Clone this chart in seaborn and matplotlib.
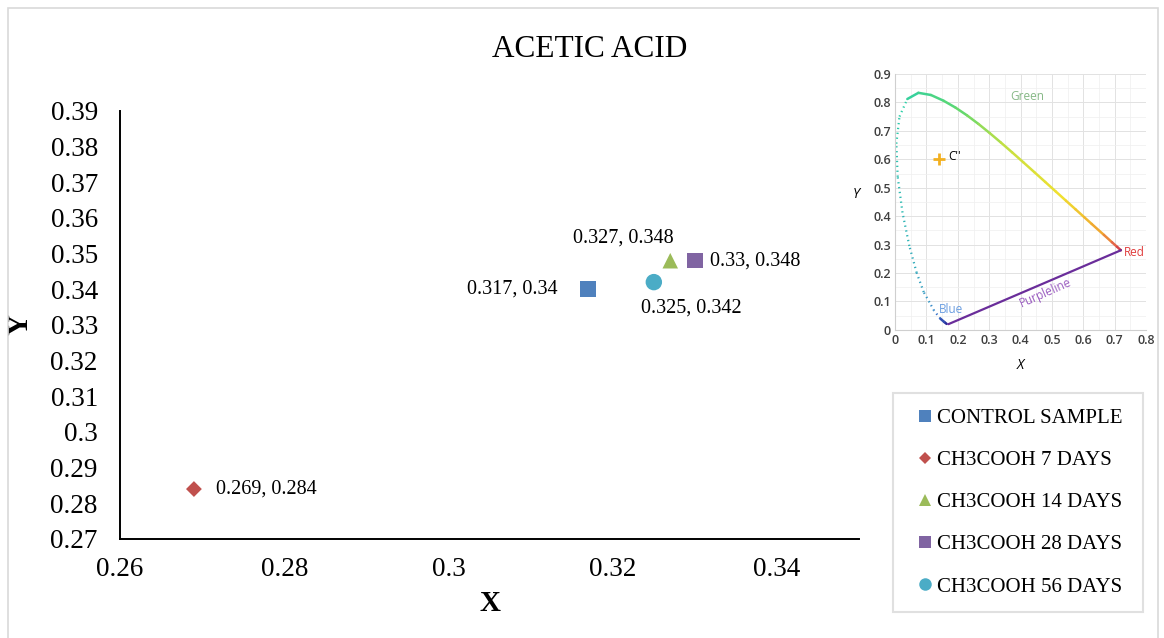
import matplotlib
matplotlib.use("Agg")
import matplotlib.pyplot as plt
import seaborn as sns
import pandas as pd
from matplotlib.colors import LinearSegmentedColormap
from matplotlib.patches import Rectangle

# main chart data
samples = ["CONTROL SAMPLE", "CH3COOH 7 DAYS", "CH3COOH 14 DAYS",
           "CH3COOH 28 DAYS", "CH3COOH 56 DAYS"]
x_vals = [0.317, 0.269, 0.327, 0.33, 0.325]
y_vals = [0.34, 0.284, 0.348, 0.348, 0.342]
point_labels = ["0.317, 0.34", "0.269, 0.284", "0.327, 0.348",
                "0.33, 0.348", "0.325, 0.342"]
x_ticks = [0.26, 0.28, 0.3, 0.32, 0.34]
y_ticks = [0.27, 0.28, 0.29, 0.3, 0.31, 0.32, 0.33, 0.34, 0.35, 0.36, 0.37, 0.38, 0.39]

# inset: CIE 1931 spectral locus
locus_nm = [440, 450, 460, 470, 475, 480, 485, 490, 495, 500, 505, 510, 515,
            520, 525, 530, 535, 540, 545, 550, 555, 560, 565, 570, 575, 580,
            585, 590, 595, 600, 610, 620, 630, 640, 650]
locus_x = [0.1644, 0.1566, 0.1440, 0.1241, 0.1096, 0.0913, 0.0687, 0.0454, 0.0235,
           0.0082, 0.0039, 0.0139, 0.0389, 0.0743, 0.1142, 0.1547, 0.1929, 0.2296,
           0.2658, 0.3016, 0.3373, 0.3731, 0.4087, 0.4441, 0.4788, 0.5125, 0.5448,
           0.5752, 0.6029, 0.6270, 0.6658, 0.6915, 0.7079, 0.7190, 0.7200]
locus_y = [0.0209, 0.0277, 0.0397, 0.0678, 0.0968, 0.1327, 0.2007, 0.2950, 0.4127,
           0.5384, 0.6548, 0.7502, 0.8120, 0.8338, 0.8262, 0.8059, 0.7816, 0.7543,
           0.7243, 0.6923, 0.6589, 0.6245, 0.5896, 0.5547, 0.5202, 0.4866, 0.4544,
           0.4242, 0.3965, 0.3725, 0.3340, 0.3083, 0.2920, 0.2809, 0.2800]
purple_x = [0.17, 0.72]
purple_y = [0.02, 0.28]
white_point = (0.14, 0.60)

palette = {
    "CONTROL SAMPLE": "#4F81BD",
    "CH3COOH 7 DAYS": "#C0504D",
    "CH3COOH 14 DAYS": "#9BBB59",
    "CH3COOH 28 DAYS": "#8064A2",
    "CH3COOH 56 DAYS": "#4BACC6",
}
marker_map = {
    "CONTROL SAMPLE": "s",
    "CH3COOH 7 DAYS": "D",
    "CH3COOH 14 DAYS": "^",
    "CH3COOH 28 DAYS": "s",
    "CH3COOH 56 DAYS": "o",
}
marker_size = {"s": 125, "D": 65, "^": 125, "o": 140}
legend_msize = {"s": 8, "D": 6.5, "^": 8.5, "o": 9}
# label offsets in points and alignment
label_style = {
    "CONTROL SAMPLE": ((-22, 0), "right"),
    "CH3COOH 7 DAYS": ((16, 0), "left"),
    "CH3COOH 14 DAYS": ((-34, 16), "center"),
    "CH3COOH 28 DAYS": ((11, 0), "left"),
    "CH3COOH 56 DAYS": ((27, -19), "center"),
}

df = pd.DataFrame({"sample": samples, "x": x_vals, "y": y_vals, "label": point_labels})

sns.set_style("white")
plt.rcParams["font.family"] = ["Liberation Serif", "DejaVu Serif"]
plt.rcParams["text.color"] = "black"
plt.rcParams["axes.labelcolor"] = "black"

fig = plt.figure(figsize=(11.64, 6.38), dpi=100)
ax = fig.add_axes([0.1031, 0.1552, 0.635, 0.671])

sns.scatterplot(data=df, x="x", y="y", hue="sample", style="sample",
                palette=palette, markers=marker_map, s=130, linewidth=0,
                ax=ax, zorder=3)
ax.collections[0].set_sizes([marker_size[marker_map[s]] for s in df["sample"]])

for _, row in df.iterrows():
    (dx, dy), ha = label_style[row["sample"]]
    ax.annotate(row["label"], (row["x"], row["y"]), xytext=(dx, dy),
                textcoords="offset points", ha=ha, va="center", fontsize=14.5)

ax.set_xlim(0.26, 0.35)
ax.set_ylim(0.27, 0.39)
ax.set_xticks(x_ticks)
ax.set_yticks(y_ticks)
ax.set_xticklabels([f"{v:g}" for v in x_ticks])
ax.set_yticklabels([f"{v:g}" for v in y_ticks])
ax.tick_params(axis="both", labelsize=19.5, colors="black")
ax.tick_params(axis="x", direction="inout", length=10, width=1.3, pad=8)
ax.tick_params(axis="y", direction="out", length=6, width=1.3, pad=10)
ax.set_xlabel("X", fontsize=21, fontweight="bold", labelpad=6)
ax.set_ylabel("Y", fontsize=21, fontweight="bold", labelpad=12)
sns.despine(ax=ax)
for side in ["left", "bottom"]:
    ax.spines[side].set_color("black")
    ax.spines[side].set_linewidth(1.4)

fig.text(0.507, 0.922, "ACETIC ACID", ha="center", va="center", fontsize=22.5)

sns.move_legend(ax, "upper left", bbox_to_anchor=(0.767, 0.047, 0.215, 0.337),
                bbox_transform=fig.transFigure, mode="expand", title=None,
                frameon=True, fancybox=False, fontsize=15, borderaxespad=0,
                borderpad=0.75, labelspacing=1.08, handlelength=1.6,
                handletextpad=-0.25, markerscale=1.0)
leg = ax.get_legend()
leg.get_frame().set_edgecolor("#d9d9d9")
leg.get_frame().set_linewidth(1.5)
for h, s in zip(leg.legend_handles, samples):
    if hasattr(h, "set_markersize"):
        h.set_markersize(legend_msize[marker_map[s]])

# inset chromaticity diagram
ins = fig.add_axes([0.769, 0.483, 0.2155, 0.401])
ins.set_xlim(0, 0.8)
ins.set_ylim(0, 0.9)
ins.set_xticks([0, 0.1, 0.2, 0.3, 0.4, 0.5, 0.6, 0.7, 0.8])
ins.set_yticks([0, 0.1, 0.2, 0.3, 0.4, 0.5, 0.6, 0.7, 0.8, 0.9])
ins.set_xticks([i * 0.05 for i in range(17)], minor=True)
ins.set_yticks([i * 0.05 for i in range(19)], minor=True)
ins.set_xticklabels(["0", "0.1", "0.2", "0.3", "0.4", "0.5", "0.6", "0.7", "0.8"])
ins.set_yticklabels(["0", "0.1", "0.2", "0.3", "0.4", "0.5", "0.6", "0.7", "0.8", "0.9"])
ins.grid(which="major", color="#e2e2e2", linewidth=0.7)
ins.grid(which="minor", color="#efefef", linewidth=0.5)
ins.tick_params(which="both", length=0, labelsize=9, labelcolor="#3f3f3f", pad=3)
for lab in ins.get_xticklabels() + ins.get_yticklabels():
    lab.set_family(["Open Sans", "DejaVu Sans"])
    lab.set_fontweight("semibold")
for side in ["top", "right"]:
    ins.spines[side].set_visible(False)
for side in ["left", "bottom"]:
    ins.spines[side].set_color("#cfcfcf")
ins.set_facecolor("white")

spec_cmap = LinearSegmentedColormap.from_list(
    "spec", ["#2a2a9a", "#3b7fd0", "#30b0b8", "#2ccfa8", "#5ed870",
             "#c8e040", "#f0e030", "#f0a030", "#e05050", "#a01030"])
nm_min, nm_max = min(locus_nm), max(locus_nm)
for i in range(len(locus_nm) - 1):
    c = spec_cmap((locus_nm[i] - nm_min) / (nm_max - nm_min))
    if 460 <= locus_nm[i] < 515:
        ins.plot(locus_x[i:i + 2], locus_y[i:i + 2], color=c, linewidth=1.6,
                 linestyle=(0, (0.6, 1.6)), solid_capstyle="round")
    else:
        ins.plot(locus_x[i:i + 2], locus_y[i:i + 2], color=c, linewidth=1.8,
                 solid_capstyle="round")
ins.plot(purple_x, purple_y, color="#6a2d9a", linewidth=1.6)
ins.plot(*white_point, marker="+", color="#f2b020", markersize=8, mew=2)

sans = ["Open Sans", "DejaVu Sans"]
ins.text(white_point[0] + 0.03, white_point[1] + 0.01, "C''", fontsize=8.5,
         family=sans, va="center")
ins.text(0.42, 0.81, "Green", color="#86b886", fontsize=8.5, family=sans, ha="center")
ins.text(0.73, 0.26, "Red", color="#e03c3c", fontsize=8.5, family=sans, ha="left")
ins.text(0.14, 0.06, "Blue", color="#6a9de0", fontsize=8.5, family=sans, ha="left")
ins.text(0.48, 0.13, "Purpleline", color="#9a5cc0", fontsize=8.5, family=sans,
         ha="center", va="center", rotation=24)
ins.set_xlabel("X", fontsize=10, style="italic", family=sans, labelpad=8)
ins.set_ylabel("Y", fontsize=10, style="italic", family=sans, rotation=0, labelpad=12)

# outer chart border
fig.patches.append(Rectangle((8 / 1164, -0.01), 1150 / 1164, 1 - 8 / 638 + 0.01,
                             transform=fig.transFigure, fill=False,
                             edgecolor="#d9d9d9", linewidth=1.2))

fig.savefig("out.png", dpi=100)
